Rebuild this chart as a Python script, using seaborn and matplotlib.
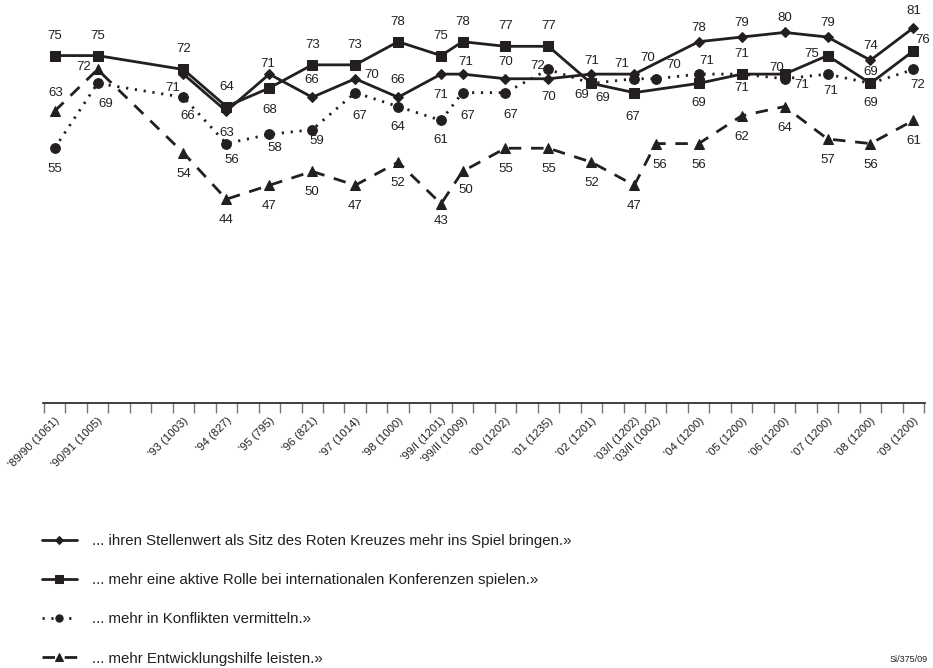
import numpy as np
import pandas as pd
import matplotlib
matplotlib.use("Agg")
import matplotlib.pyplot as plt
import seaborn as sns

# -----------------------------
# Data
# -----------------------------
tags = ["89/90", "90/91", "93", "94", "95", "96", "97", "98", "99/I", "99/II",
        "00", "01", "02", "03/I", "03/II", "04", "05", "06", "07", "08", "09"]
sample_n = [1061, 1005, 1003, 827, 795, 821, 1014, 1000, 1201, 1009,
            1202, 1235, 1201, 1202, 1002, 1200, 1200, 1200, 1200, 1200, 1200]
# survey time in years since '89/90
survey_pos = [0, 1, 3, 4, 5, 6, 7, 8, 9, 9.5,
              10.5, 11.5, 12.5, 13.5, 14, 15, 16, 17, 18, 19, 20]

nan = np.nan
rotes_kreuz = [nan, nan, 71, 63, 71, 66, 70, 66, 71, 71,
               70, 70, 71, 71, nan, 78, 79, 80, 79, 74, 81]
konferenzen = [75, 75, 72, 64, 68, 73, 73, 78, 75, 78,
               77, 77, 69, 67, nan, 69, 71, 71, 75, 69, 76]
vermitteln = [55, 69, 66, 56, 58, 59, 67, 64, 61, 67,
              67, 72, 69, 70, 70, 71, 71, 70, 71, 69, 72]
entwicklung = [63, 72, 54, 44, 47, 50, 47, 52, 43, 50,
               55, 55, 52, 47, 56, 56, 62, 64, 57, 56, 61]

legend_labels = [
    "... ihren Stellenwert als Sitz des Roten Kreuzes mehr ins Spiel bringen.»",
    "... mehr eine aktive Rolle bei internationalen Konferenzen spielen.»",
    "... mehr in Konflikten vermitteln.»",
    "... mehr Entwicklungshilfe leisten.»",
]

# -----------------------------
# Styles / label offsets (pixels)
# -----------------------------
INK = "#231f20"
styles = [
    dict(marker="D", ms=5, ls="-", default=(0, 14),
         offsets={"93": (-11, -14), "94": (0, -22), "95": (-2, 10), "96": (0, 17),
                  "97": (17, 4), "98": (0, 17), "99/I": (0, -21), "99/II": (3, 12),
                  "00": (0, 17), "01": (0, -18), "02": (0, 13), "03/I": (-13, 10),
                  "09": (0, 17)}),
    dict(marker="s", ms=7, ls="-", default=(0, 20),
         offsets={"95": (0, -22), "02": (11, -15), "03/I": (-2, -24), "04": (0, -20),
                  "06": (17, -11), "07": (-16, 2), "08": (0, -20), "09": (9, 11)}),
    dict(marker="o", ms=7, ls=(0, (0.8, 2.4)), default=(0, -20),
         offsets={"89/90": (0, -21), "90/91": (8, -21), "93": (4, -19), "94": (5, -16),
                  "95": (5, -14), "96": (5, -11), "97": (5, -23), "99/II": (5, -23),
                  "00": (5, -22), "01": (-11, 3), "02": (-10, -12), "03/I": (13, 21),
                  "03/II": (18, 14), "04": (8, 13), "05": (0, -14), "06": (-8, 11),
                  "07": (3, -17), "08": (0, 11), "09": (4, -16)}),
    dict(marker="^", ms=7.5, ls=(0, (4.5, 3.5)), default=(0, -21),
         offsets={"89/90": (1, 18), "90/91": (-14, 2), "99/I": (0, -17),
                  "99/II": (3, -19), "03/II": (4, -21)}),
]
series = [rotes_kreuz, konferenzen, vermitteln, entwicklung]

# -----------------------------
# Plot
# -----------------------------
sns.set_style("white")
plt.rcParams["font.family"] = ["Liberation Sans", "DejaVu Sans"]

fig = plt.figure(figsize=(9.33, 6.68), dpi=100)
ax = fig.add_axes([43 / 933, 1 - 403 / 668, (925 - 43) / 933, 403 / 668])

handles = []
for values, st, lab in zip(series, styles, legend_labels):
    df = pd.DataFrame({"pos": survey_pos, "val": values, "tag": tags}).dropna()
    sns.lineplot(data=df, x="pos", y="val", ax=ax, color=INK, linewidth=2,
                 linestyle=st["ls"], marker=st["marker"], markersize=st["ms"],
                 markeredgecolor=INK, markerfacecolor=INK, sort=False)
    line = ax.get_lines()[-1]
    handles.append(line)
    for x, y, t in zip(df["pos"], df["val"], df["tag"]):
        dx, dy = st["offsets"].get(t, st["default"])
        ax.annotate(f"{int(y)}", (x, y), xytext=(dx, dy), textcoords="offset pixels",
                    ha="center", va="center", fontsize=9.5, color=INK)

ax.set_xlim(-0.27, 20.27)
ax.set_ylim(0, 87)
ax.set_xlabel("")
ax.set_ylabel("")
ax.set_yticks([])
for s in ["left", "right", "top"]:
    ax.spines[s].set_visible(False)
ax.spines["bottom"].set_color(INK)
ax.spines["bottom"].set_linewidth(1.2)

ax.set_xticks(survey_pos)
ax.set_xticklabels([f"'{t} ({n})" for t, n in zip(tags, sample_n)],
                   rotation=45, ha="right", rotation_mode="anchor",
                   fontsize=8.2, color=INK)
ax.tick_params(axis="x", which="major", bottom=True, length=0, pad=9)
ax.set_xticks(np.arange(-0.25, 20.3, 0.5), minor=True)
ax.tick_params(axis="x", which="minor", bottom=True, length=7, width=1,
               color="#777777", direction="out")

fig.legend(handles, legend_labels, loc="upper left",
           bbox_to_anchor=(42 / 933, 1 - 534 / 668), frameon=False,
           fontsize=10.8, handlelength=2.3, handletextpad=1.0, markerscale=0.75,
           labelspacing=1.68, borderaxespad=0, borderpad=0, labelcolor=INK)

fig.text(928 / 933, 1 - 660 / 668, "Si/375/09", ha="right", va="center",
         fontsize=6.5, color=INK)

plt.savefig("out.png", dpi=100)
